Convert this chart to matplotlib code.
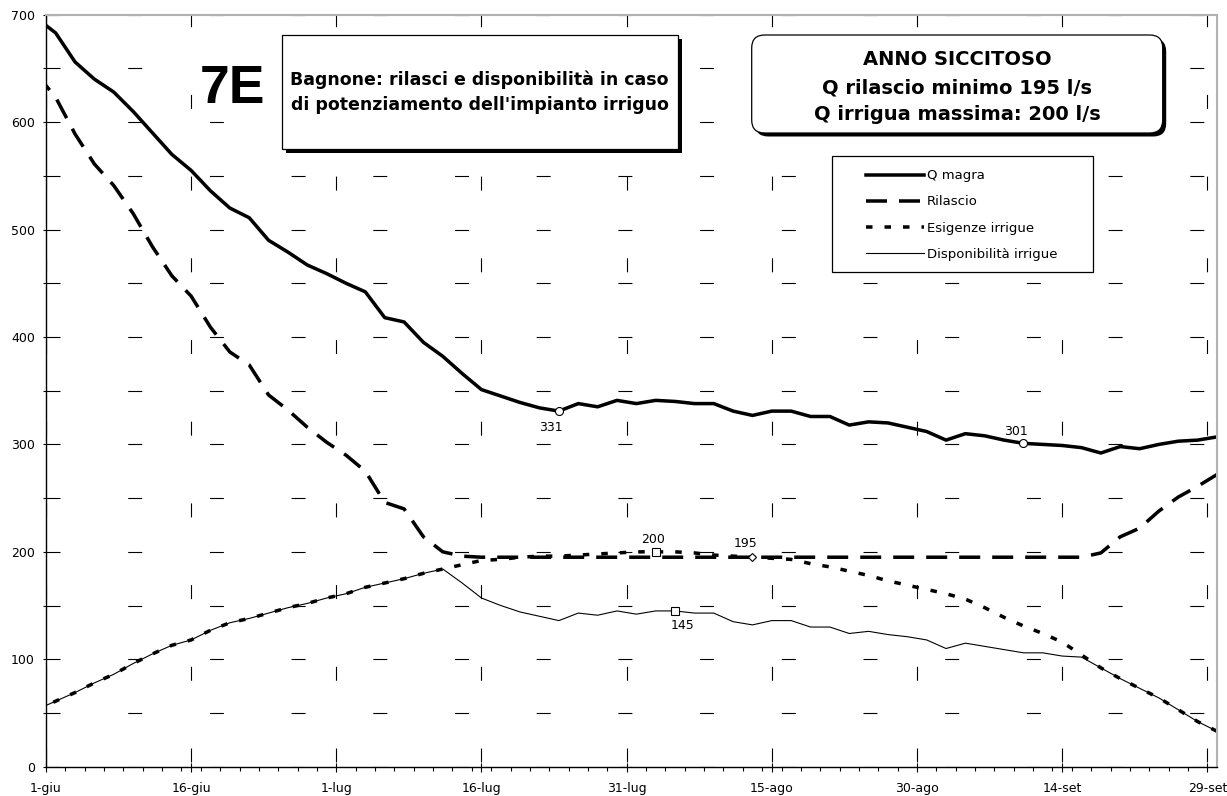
import numpy as np
import matplotlib
matplotlib.use('Agg')
import matplotlib.pyplot as plt
from matplotlib.patches import Rectangle, FancyBboxPatch

plt.rcParams['font.family'] = 'DejaVu Sans'
plt.rcParams['lines.scale_dashes'] = False

# giorni dal 1 giugno, un valore ogni due giorni
days = np.arange(-1, 122, 2)

q_magra = [697, 683, 656, 640, 628, 610, 590, 570, 555, 536,
           520, 511, 490, 479, 467, 459, 450, 442, 418, 414,
           395, 382, 366, 351, 345, 339, 334, 331, 338, 335,
           341, 338, 341, 340, 338, 338, 331, 327, 331, 331,
           326, 326, 318, 321, 320, 316, 312, 304, 310, 308,
           304, 301, 300, 299, 297, 292, 298, 296, 300, 303,
           304, 307]

rilascio = [645, 623, 589, 561, 541, 515, 484, 457, 438, 409,
            386, 374, 346, 332, 316, 302, 290, 275, 246, 240,
            214, 200, 196, 195, 195, 195, 195, 195, 195, 195,
            195, 195, 195, 195, 195, 195, 195, 195, 195, 195,
            195, 195, 195, 195, 195, 195, 195, 195, 195, 195,
            195, 195, 195, 195, 195, 199, 214, 222, 238, 251,
            261, 272]

esigenze = [53, 61, 69, 78, 86, 96, 105, 113, 118, 127,
            134, 138, 143, 148, 152, 157, 161, 167, 171, 175,
            180, 184, 188, 192, 193, 195, 196, 196, 197, 198,
            199, 200, 200, 200, 199, 197, 196, 195, 194, 193,
            189, 186, 182, 178, 173, 169, 165, 161, 156, 148,
            139, 131, 124, 116, 104, 92, 82, 73, 64, 53,
            42, 33]

disponibilita = [53, 61, 69, 78, 86, 96, 105, 113, 118, 127,
                 134, 138, 143, 148, 152, 157, 161, 167, 171, 175,
                 180, 184, 171, 157, 150, 144, 140, 136, 143, 141,
                 145, 142, 145, 145, 143, 143, 135, 132, 136, 136,
                 130, 130, 124, 126, 123, 121, 118, 110, 115, 112,
                 109, 106, 106, 103, 102, 92, 82, 73, 64, 53,
                 42, 33]

tick_days = [0, 15, 30, 45, 60, 75, 90, 105, 120]
tick_labels = ['1-giu', '16-giu', '1-lug', '16-lug', '31-lug',
               '15-ago', '30-ago', '14-set', '29-set']

W, H = 1227, 796
PX = 0.72  # punti per pixel a 100 dpi

fig = plt.figure(figsize=(W / 100, H / 100), dpi=100)
ax = fig.add_axes([46 / W, 1 - 766.7 / H, (1217 - 46) / W, (766.7 - 14.7) / H])

l1, = ax.plot(days, q_magra, color='black', lw=3.5 * PX,
              solid_joinstyle='round', label='Q magra')
l2, = ax.plot(days, rilascio, color='black', lw=3.5 * PX,
              dashes=(21 * PX, 12 * PX), label='Rilascio')
l3, = ax.plot(days, esigenze, color='black', lw=3.5 * PX,
              dashes=(6.5 * PX, 12 * PX), label='Esigenze irrigue')
l4, = ax.plot(days, disponibilita, color='black', lw=1.1 * PX,
              label='Disponibilità irrigue')


def mark(series, i, marker, size, dx, dy):
    ax.plot(days[i], series[i], marker=marker, ms=size, mfc='white',
            mec='black', mew=0.8, zorder=5)
    ax.annotate(f'{series[i]:.0f}', (days[i], series[i]),
                xytext=(dx * PX, -dy * PX), textcoords='offset points',
                ha='center', va='center', fontsize=9)


mark(q_magra, 27, 'o', 8 * PX, -7.6, 16)
mark(q_magra, 51, 'o', 8 * PX, -7.3, -11.6)
mark(esigenze, 32, 's', 8 * PX, -2.3, -12.7)
mark(rilascio, 37, 'D', 6 * PX, -7.3, -14)
mark(disponibilita, 33, 's', 8 * PX, 7, 15)

ax.set_xlim(0, 121)
ax.set_ylim(0, 700)
ax.set_xticks(tick_days)
ax.set_xticklabels(tick_labels)
ax.set_xticks(np.arange(0, 121, 2), minor=True)
ax.set_yticks(np.arange(0, 701, 100))
ax.set_yticks(np.arange(50, 700, 100), minor=True)
ax.tick_params(axis='x', which='major', direction='inout', length=9 * PX,
               width=0.8, pad=8, labelsize=9)
ax.tick_params(axis='x', which='minor', direction='out', length=4 * PX, width=0.8)
ax.tick_params(axis='y', which='both', direction='out', length=3 * PX,
               width=0.8, pad=5.8, labelsize=9)

ax.grid(True, axis='x', which='major', color='black', lw=0.8,
        linestyle=(76.7 * PX, (14 * PX, 67.7 * PX)))
ax.grid(True, axis='y', which='both', color='black', lw=0.8,
        linestyle=(0, (14 * PX, 67.7 * PX)))
ax.set_axisbelow(True)

for s in ['left', 'bottom']:
    ax.spines[s].set_linewidth(1.0)
for s in ['top', 'right']:
    ax.spines[s].set_color('#b0b0b0')
    ax.spines[s].set_linewidth(1.5)

# sovrapposizione in pixel per riquadri e legenda
ov = fig.add_axes([0, 0, 1, 1])
ov.set_xlim(0, W)
ov.set_ylim(H, 0)
ov.axis('off')
ov.patch.set_visible(False)

ov.text(232.2, 103.3, '7E', ha='center', va='baseline', fontsize=38.5,
        fontweight='bold', family='Liberation Sans')

ov.add_patch(Rectangle((285.7, 39), 396, 114.3, facecolor='black', edgecolor='none'))
ov.add_patch(Rectangle((281.7, 35), 396, 114.3, facecolor='white',
                       edgecolor='black', lw=0.9))
ov.text(479.7, 85, 'Bagnone: rilasci e disponibilità in caso', ha='center',
        va='baseline', fontsize=12.5, fontweight='bold')
ov.text(479.7, 110.5, "di potenziamento dell'impianto irriguo", ha='center',
        va='baseline', fontsize=12.5, fontweight='bold')

ov.add_patch(FancyBboxPatch((755.2, 38.5), 411, 98,
                            boxstyle='round,pad=0,rounding_size=13',
                            facecolor='black', edgecolor='none'))
ov.add_patch(FancyBboxPatch((751.7, 35), 411, 98,
                            boxstyle='round,pad=0,rounding_size=13',
                            facecolor='white', edgecolor='black', lw=0.9))
for yb, txt in [(65, 'ANNO SICCITOSO'), (93.3, 'Q rilascio minimo 195 l/s'),
                (120.5, 'Q irrigua massima: 200 l/s')]:
    ov.text(957, yb, txt, ha='center', va='baseline', fontsize=14,
            fontweight='bold')

ov.add_patch(Rectangle((831.7, 155.7), 261, 116, facecolor='white',
                       edgecolor='black', lw=0.9, zorder=1))
ov.legend(handles=[l1, l2, l3, l4], loc='center', bbox_to_anchor=(962, 215),
          bbox_transform=ov.transData, frameon=False, fontsize=9.5,
          handlelength=58 * PX / 9.5, handletextpad=3 * PX / 9.5,
          labelspacing=1.0, borderpad=0)

fig.savefig('out.png', dpi=100)
